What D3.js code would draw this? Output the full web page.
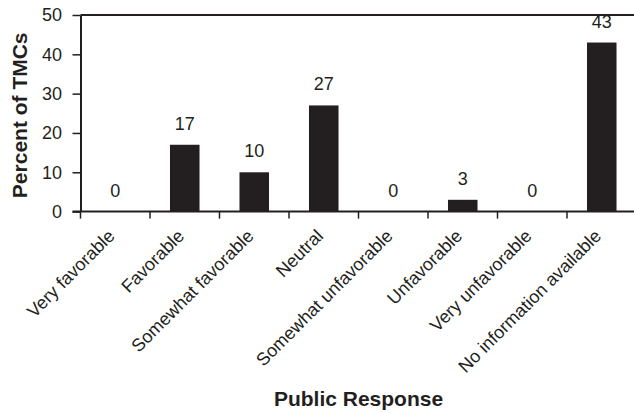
<!DOCTYPE html>
<html>
<head>
<meta charset="utf-8">
<script src="https://cdn.jsdelivr.net/npm/d3@7"></script>
<style>
  html, body { margin: 0; padding: 0; background: #fff; }
  svg { display: block; }
  text { font-family: "Liberation Sans", Arial, Helvetica, sans-serif; fill: #231f20; }
</style>
</head>
<body>
<svg id="chart" width="634" height="413"></svg>
<script>
// Public response categories and share of TMCs (%)
const categories = [
  "Very favorable", "Favorable", "Somewhat favorable", "Neutral",
  "Somewhat unfavorable", "Unfavorable", "Very unfavorable", "No information available"
];
const percents = [0, 17, 10, 27, 0, 3, 0, 43];
const yTicks = [0, 10, 20, 30, 40, 50];
const yTitle = "Percent of TMCs";
const xTitle = "Public Response";

const ink = "#231f20";
const W = 634, H = 413;
const plot = { left: 80.5, right: 636.5, top: 15, bottom: 211.6 };
const fs = "18px";

const svg = d3.select("#chart");

const x = d3.scaleBand()
  .domain(categories)
  .range([plot.left, plot.right])
  .paddingInner(0.575)
  .paddingOuter(0.2875);

const y = d3.scaleLinear()
  .domain([0, 50])
  .range([plot.bottom, plot.top]);

// boundaries between categories carry the x tick marks
const edge = d3.scaleLinear()
  .domain([0, categories.length])
  .range([plot.left, plot.right]);

// bars
svg.append("g").selectAll("rect")
  .data(percents)
  .join("rect")
  .attr("x", (d, i) => x(categories[i]))
  .attr("width", x.bandwidth())
  .attr("y", d => y(d))
  .attr("height", d => y(0) - y(d))
  .attr("fill", ink);

// value labels
svg.append("g").selectAll("text")
  .data(percents)
  .join("text")
  .attr("x", (d, i) => x(categories[i]) + x.bandwidth() / 2)
  .attr("y", d => y(d) - 15)
  .attr("text-anchor", "middle")
  .style("font-size", fs)
  .text(d => d);

// top frame line
svg.append("line")
  .attr("x1", plot.left).attr("x2", W)
  .attr("y1", plot.top).attr("y2", plot.top)
  .attr("stroke", ink).attr("stroke-width", 2);

// y axis: line and ticks from the axis generator, labels set separately
const yAxis = svg.append("g")
  .attr("transform", `translate(${plot.left},0)`)
  .call(d3.axisLeft(y).tickValues(yTicks).tickSize(8).tickFormat("").tickSizeOuter(0));
yAxis.select(".domain").attr("stroke", ink).attr("stroke-width", 2);
yAxis.selectAll(".tick line").attr("stroke", ink).attr("stroke-width", 1.5);

svg.append("g").selectAll("text")
  .data(yTicks)
  .join("text")
  .attr("x", plot.left - 18.5)
  .attr("y", d => y(d) + 6.3)
  .attr("text-anchor", "end")
  .style("font-size", fs)
  .text(d => d);

// x axis baseline and boundary ticks
svg.append("line")
  .attr("x1", plot.left - 8).attr("x2", W)
  .attr("y1", plot.bottom).attr("y2", plot.bottom)
  .attr("stroke", ink).attr("stroke-width", 2);
svg.append("g").selectAll("line")
  .data(d3.range(categories.length + 1))
  .join("line")
  .attr("x1", i => edge(i)).attr("x2", i => edge(i))
  .attr("y1", plot.bottom).attr("y2", plot.bottom + 7)
  .attr("stroke", ink).attr("stroke-width", 1.5);

// rotated category labels
svg.append("g").selectAll("text")
  .data(categories)
  .join("text")
  .attr("transform", d =>
    `translate(${x(d) + x.bandwidth() / 2 + 0.5},${plot.bottom + 25.5}) rotate(-45)`)
  .attr("text-anchor", "end")
  .style("font-size", fs)
  .text(d => d);

// axis titles
svg.append("text")
  .attr("transform", `translate(26.5,${(plot.top + plot.bottom) / 2 + 2}) rotate(-90)`)
  .attr("text-anchor", "middle")
  .style("font-size", "21px")
  .style("font-weight", "bold")
  .text(yTitle);

svg.append("text")
  .attr("x", (plot.left + plot.right) / 2)
  .attr("y", 406)
  .attr("text-anchor", "middle")
  .style("font-size", "21px")
  .style("font-weight", "bold")
  .text(xTitle);
</script>
</body>
</html>
